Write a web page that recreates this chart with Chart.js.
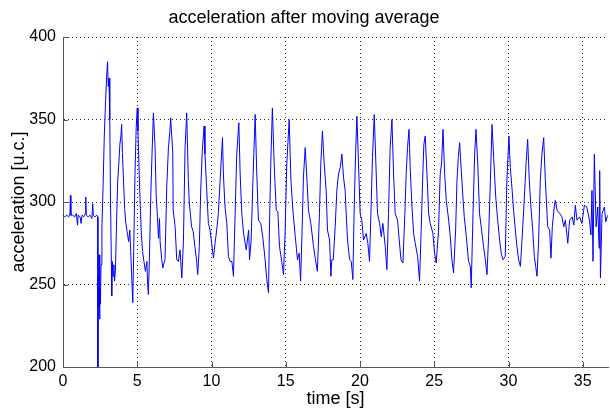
<!DOCTYPE html>
<html>
<head>
<meta charset="utf-8">
<script src="https://cdn.jsdelivr.net/npm/chart.js@4"></script>
<style>
html,body{margin:0;padding:0;background:#fff;}
canvas{display:block;}
</style>
</head>
<body>
<canvas id="c" width="610" height="411"></canvas>
<script>
const chartTitle = "acceleration after moving average";
const xAxisLabel = "time [s]";
const yAxisLabel = "acceleration [u.c.]";
const xTickStep = 5;
const yTickStep = 50;
const xRange = [0, 36.7];
const yRange = [200, 400];

const timeValues = [
0.00,0.12,0.25,0.38,0.47,0.50,0.53,0.65,0.78,0.90,0.98,1.02,1.15,1.22,1.28,1.40,1.50,1.53,1.57,1.70,1.82,1.95,2.00,2.04,2.15,2.28,2.34,
2.35,2.37,2.40,2.43,2.46,2.49,2.52,2.56,2.62,2.70,2.78,2.87,2.95,3.00,3.05,3.10,3.15,3.20,3.26,3.28,3.32,3.37,3.42,3.47,3.53,3.60,3.68,3.75,3.83,3.90,3.95,
4.00,4.08,4.15,4.22,4.32,4.42,4.50,4.56,4.62,4.70,4.76,4.85,4.93,5.00,5.05,5.12,5.20,5.28,5.36,5.45,5.55,5.65,5.70,5.75,5.82,5.90,5.98,6.09,
6.20,6.27,6.36,6.43,6.50,6.54,6.65,6.72,6.80,6.87,6.99,7.10,7.20,7.25,7.39,7.42,7.55,7.66,7.77,7.88,8.00,8.11,8.22,8.33,
8.44,8.50,8.66,8.77,8.88,8.99,9.07,9.18,9.27,9.38,9.50,9.56,9.67,9.79,9.90,10.01,10.13,10.24,10.35,10.46,10.58,10.74,
10.80,10.91,11.03,11.14,11.25,11.37,11.48,11.59,11.70,11.84,11.93,12.04,12.16,12.34,12.50,12.56,12.67,12.79,12.94,
13.05,13.16,13.32,13.45,13.61,13.72,13.84,13.90,13.99,14.10,14.22,14.36,14.47,14.58,14.73,14.85,14.96,15.07,15.23,
15.35,15.48,15.64,15.79,15.90,16.00,16.10,16.19,16.31,16.42,16.53,16.69,16.87,17.00,17.13,17.27,17.36,17.47,
17.59,17.72,17.81,17.95,18.04,18.10,18.20,18.33,18.44,18.55,18.67,18.78,18.89,19.00,19.07,19.16,19.30,19.41,19.52,19.61,19.70,19.79,
19.90,20.01,20.12,20.24,20.42,20.53,20.64,20.73,20.84,20.96,21.07,21.18,21.32,21.43,21.54,21.70,21.81,21.92,22.03,22.15,
22.26,22.37,22.53,22.64,22.76,22.89,23.02,23.11,23.20,23.30,23.38,23.50,23.61,23.72,23.88,24.01,24.12,24.23,24.30,24.39,
24.51,24.62,24.73,24.91,25.02,25.13,25.29,25.40,25.49,25.59,25.70,25.81,25.97,26.08,26.19,26.30,26.44,26.53,26.62,26.71,
26.82,26.93,27.02,27.16,27.31,27.43,27.49,27.61,27.72,27.81,27.93,28.05,28.16,28.32,28.44,28.55,28.66,28.78,28.89,
29.00,29.14,29.27,29.40,29.51,29.63,29.78,29.89,30.03,30.12,30.23,30.34,30.46,30.57,30.68,30.80,30.91,31.07,31.18,31.29,
31.40,31.51,31.63,31.74,31.83,31.92,32.03,32.14,32.25,32.37,32.48,32.64,32.77,32.86,32.95,33.08,33.15,33.27,33.45,33.60,
33.72,33.83,33.99,34.12,34.28,34.40,34.50,34.61,34.79,34.94,35.11,35.27,35.45,35.55,35.62,35.69,35.78,35.90,36.01,36.10,
36.14,36.19,36.30,36.46,36.55,36.64,36.70
];

const accelValues = [
292,291,292,291,293,304,292,292,291,293,286,292,291,287,292,291,293,303,292,291,292,290,299,292,291,292,291,
200,255,236,268,229,250,238,262,285,310,340,362,378,385,370,375,350,300,262,243,264,255,262,252,258,285,312,322,335,340,347,
330,312,296,288,282,276,283,270,256,239,270,318,345,357,343,320,298,280,270,264,258,264,250,244,266,300,325,354,
333,305,291,278,290,276,265,260,263,265,310,333,343,351,330,295,285,265,264,271,254,276,333,354,
313,300,285,282,273,265,256,273,306,331,346,329,309,287,283,275,266,275,283,293,313,339,
317,297,287,267,264,264,255,293,329,348,317,293,281,271,283,265,277,313,353,
317,289,287,279,265,253,245,283,323,357,323,295,294,273,264,256,283,323,350,
313,295,279,265,269,252,283,315,333,315,295,287,273,265,258,293,323,343,
323,307,283,277,255,265,265,285,307,317,321,329,315,307,293,277,265,264,253,297,329,352,
323,293,289,277,281,275,264,291,327,353,323,293,287,279,287,273,259,293,333,350,
317,293,289,277,265,263,293,317,333,344,321,297,281,275,267,252,283,317,335,340,
317,293,287,281,269,263,283,317,323,344,317,301,289,279,265,257,283,313,327,336,
319,303,291,279,264,261,248,293,329,344,323,293,285,273,265,256,279,313,347,
327,303,289,277,269,265,267,313,340,321,309,295,283,273,265,261,277,303,323,338,
313,297,283,267,261,255,277,313,329,339,313,285,283,266,285,297,301,295,293,291,
285,289,275,289,291,286,298,289,291,287,298,297,289,280,307,264,329,285,297,272,
319,254,293,297,288,291,292
];

const points = timeValues.map((t, i) => ({x: t, y: accelValues[i]}));

const innerTicks = {
  id: 'innerTicks',
  afterDraw(chart) {
    const {ctx, chartArea, scales} = chart;
    ctx.save();
    ctx.strokeStyle = '#555';
    ctx.lineWidth = 1;
    ctx.beginPath();
    scales.x.ticks.forEach(t => {
      const px = Math.round(scales.x.getPixelForValue(t.value)) + 0.5;
      ctx.moveTo(px, chartArea.bottom);
      ctx.lineTo(px, chartArea.bottom - 5);
    });
    scales.y.ticks.forEach(t => {
      const py = Math.round(scales.y.getPixelForValue(t.value)) + 0.5;
      ctx.moveTo(chartArea.left, py);
      ctx.lineTo(chartArea.left + 5, py);
    });
    ctx.stroke();
    ctx.restore();
  }
};

const fontFam = "'Liberation Sans', Arial, Helvetica, sans-serif";

new Chart(document.getElementById('c'), {
  type: 'line',
  data: {
    datasets: [{
      data: points,
      borderColor: '#0000ff',
      borderWidth: 1,
      pointRadius: 0,
      tension: 0,
      fill: false
    }]
  },
  options: {
    responsive: false,
    animation: false,
    devicePixelRatio: 1,
    parsing: false,
    layout: {padding: {left: 0, right: 2, top: 0, bottom: 0}},
    plugins: {
      legend: {display: false},
      tooltip: {enabled: false},
      title: {
        display: true,
        text: chartTitle,
        color: '#000',
        font: {family: fontFam, size: 18, weight: 'normal', lineHeight: 1.2},
        padding: {top: 7, bottom: 8.4}
      }
    },
    scales: {
      x: {
        type: 'linear',
        min: xRange[0],
        max: xRange[1],
        afterFit(s) { s.height = 44; },
        ticks: {
          stepSize: xTickStep,
          includeBounds: false,
          color: '#000',
          padding: 5,
          maxRotation: 0,
          font: {family: fontFam, size: 16}
        },
        grid: {color: 'rgba(0,0,0,0.8)', lineWidth: 1, drawTicks: false},
        border: {display: true, color: '#555', width: 1, dash: [1, 3]},
        title: {
          display: true,
          text: xAxisLabel,
          color: '#000',
          font: {family: fontFam, size: 18},
          padding: {top: 0, bottom: 1}
        }
      },
      y: {
        type: 'linear',
        min: yRange[0],
        max: yRange[1],
        afterFit(s) { s.width = 63; },
        ticks: {
          stepSize: yTickStep,
          includeBounds: false,
          color: '#000',
          padding: 7,
          font: {family: fontFam, size: 16}
        },
        grid: {color: 'rgba(0,0,0,0.8)', lineWidth: 1, drawTicks: false},
        border: {display: true, color: '#555', width: 1, dash: [1, 3]},
        title: {
          display: true,
          text: yAxisLabel,
          color: '#000',
          font: {family: fontFam, size: 18},
          padding: {top: 8, bottom: 0}
        }
      }
    }
  },
  plugins: [innerTicks]
});
</script>
</body>
</html>
